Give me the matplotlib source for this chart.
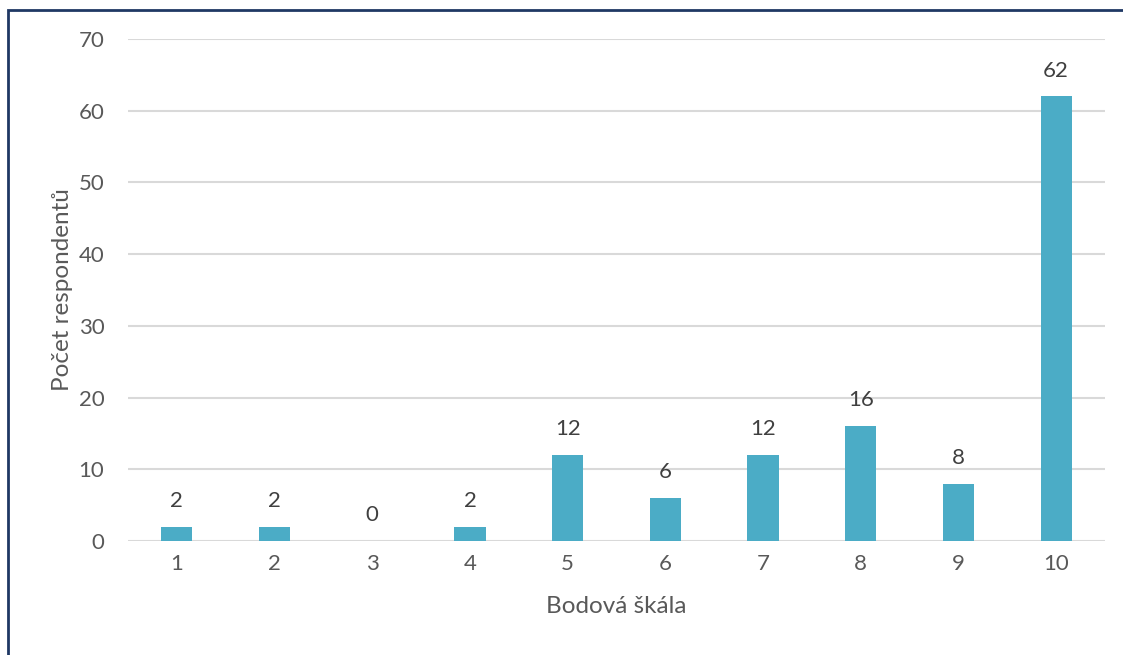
import matplotlib.pyplot as plt
from matplotlib.patches import Rectangle

plt.rcParams['font.family'] = ['Lato', 'DejaVu Sans']

categories = ['1', '2', '3', '4', '5', '6', '7', '8', '9', '10']
counts = [2, 2, 0, 2, 12, 6, 12, 16, 8, 62]

fig = plt.figure(figsize=(11.23, 6.55), dpi=100)
ax = fig.add_axes([128 / 1123, 1 - 541 / 655, (1105 - 128) / 1123, (541 - 39) / 655])

x = range(len(categories))
bars = ax.bar(x, counts, width=0.32, color='#4BACC6', zorder=3)
for b, v in zip(bars, counts):
    ax.text(b.get_x() + b.get_width() / 2, v + 2.2, str(v), ha='center', va='bottom',
            fontsize=16, color='#404040')

ax.set_xlim(-0.5, len(categories) - 0.5)
ax.set_ylim(0, 70)
ax.set_yticks(range(0, 71, 10))
ax.set_xticks(list(x))
ax.set_xticklabels(categories)
ax.grid(axis='y', color='#d9d9d9', linewidth=1.5, zorder=0)
ax.set_axisbelow(True)
for s in ax.spines.values():
    s.set_visible(False)
ax.tick_params(length=0, labelsize=16, labelcolor='#595959', pad=9)
ax.tick_params(axis='y', pad=17)
ax.set_xlabel('Bodová škála', fontsize=17.5, color='#595959', labelpad=16)
ax.set_ylabel('Počet respondentů', fontsize=17.5, color='#595959', labelpad=4)

# dark frame around the chart
fig.patches.append(Rectangle((7.5 / 1123, -0.05), 1.2, 1 - 9.5 / 655 + 0.05,
                             transform=fig.transFigure, fill=False,
                             edgecolor='#1f3864', linewidth=2))

fig.savefig('out.png', dpi=100)
